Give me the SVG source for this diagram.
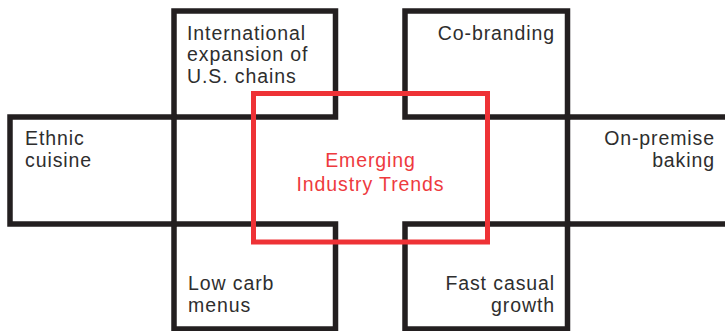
<svg xmlns="http://www.w3.org/2000/svg" width="725" height="331" viewBox="0 0 725 331">
  <style>
    .box { fill: none; stroke: #231f20; stroke-width: 5.5; stroke-linejoin: miter; }
    .core { fill: none; stroke: #ee3236; stroke-width: 5; }
    .lbl { font-family: "Liberation Sans", Arial, sans-serif; font-size: 19.5px; letter-spacing: 0.9px; fill: #2e2e2e; }
    .end { text-anchor: end; }
    .core-lbl { font-family: "Liberation Sans", Arial, sans-serif; font-size: 19.5px; letter-spacing: 0.9px; fill: #ee3a3e; text-anchor: middle; }
  </style>
  <rect width="725" height="331" fill="#ffffff"/>

  <g id="intl-expansion">
    <rect class="box" x="174" y="11" width="161.5" height="106"/>
    <text class="lbl" x="187" y="39.5">International</text>
    <text class="lbl" x="187" y="61">expansion of</text>
    <text class="lbl" x="187" y="83">U.S. chains</text>
  </g>

  <g id="co-branding">
    <rect class="box" x="405" y="11" width="162.5" height="106"/>
    <text class="lbl end" x="555" y="39.5">Co-branding</text>
  </g>

  <g id="ethnic-cuisine">
    <rect class="box" x="10" y="117" width="164" height="107"/>
    <text class="lbl" x="25" y="145">Ethnic</text>
    <text class="lbl" x="25" y="167">cuisine</text>
  </g>

  <g id="on-premise-baking">
    <rect class="box" x="567.5" y="117" width="170" height="107"/>
    <text class="lbl end" x="715" y="145">On-premise</text>
    <text class="lbl end" x="715" y="167">baking</text>
  </g>

  <g id="low-carb">
    <rect class="box" x="174" y="224" width="161.5" height="105"/>
    <text class="lbl" x="188" y="290">Low carb</text>
    <text class="lbl" x="188" y="312">menus</text>
  </g>

  <g id="fast-casual">
    <rect class="box" x="405" y="224" width="162.5" height="105"/>
    <text class="lbl end" x="555" y="290">Fast casual</text>
    <text class="lbl end" x="555" y="312">growth</text>
  </g>

  <g id="emerging-trends">
    <rect class="core" x="253.5" y="93.5" width="234" height="148.5"/>
    <text class="core-lbl" x="370.5" y="167">Emerging</text>
    <text class="core-lbl" x="370.5" y="191">Industry Trends</text>
  </g>

  <g id="connectors"></g>
</svg>
